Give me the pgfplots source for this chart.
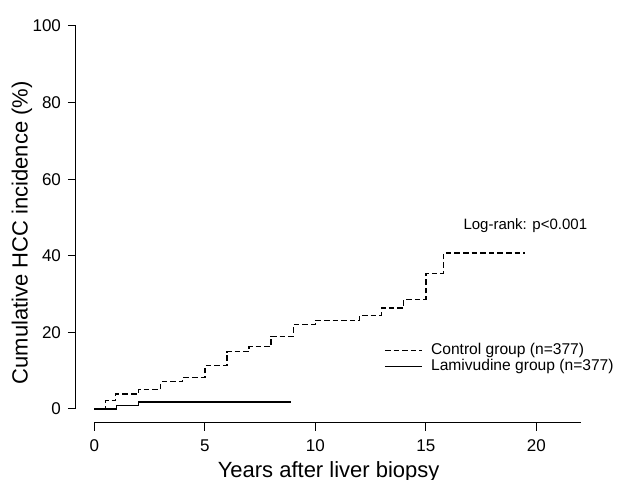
\documentclass[border=0pt]{standalone}
\usepackage{fontspec}
\setmainfont{Liberation Sans}
\usepackage{pgfplots}
\pgfplotsset{compat=1.18}
\begin{document}
\begin{tikzpicture}
\useasboundingbox (-38pt,-28.5pt) rectangle (271pt,211.5pt);
\begin{axis}[
    scale only axis,
    width=252.3pt, height=198.5pt,
    xmin=-0.83, xmax=22, ymin=-3.66, ymax=100,
    axis x line*=bottom, axis y line*=left,
    axis line style={draw=none},
    clip=false,
    xtick={0,5,10,15,20},
    ytick={0,20,40,60,80,100},
    tick align=outside,
    major tick length=4pt,
    tick style={black, line width=0.5pt},
    tick label style={font=\fontsize{8.5}{10}\selectfont},
    /pgf/number format/assume math mode=true,
    xticklabel style={yshift=-1pt},
    xlabel={Years after liver biopsy},
    xlabel style={at={(axis cs:10.6,-3.66)}, anchor=north, yshift=-16pt,
        font=\fontsize{11}{13}\selectfont},
    ylabel={Cumulative HCC incidence (\%)},
    ylabel style={at={(axis cs:-0.83,46)}, anchor=center, yshift=27pt,
        font=\fontsize{11}{13}\selectfont},
    legend image code/.code={\draw[#1] (0pt,0pt) -- (18.5pt,0pt);},
    legend cell align=left,
    legend style={draw=none, fill=none, at={(axis cs:13.1,18.3)},
        anchor=north west, inner sep=0pt, row sep=-3pt,
        font=\fontsize{7.8}{9}\selectfont,
        nodes={inner xsep=4.2pt}},
  ]
  \draw[line width=0.5pt] (axis cs:0,-3.66) -- (axis cs:22,-3.66);
  \draw[line width=0.5pt] (axis cs:-0.83,0) -- (axis cs:-0.83,100);

  \addplot[const plot, black, line width=0.7pt, dash pattern=on 2.8pt off 1.5pt]
    coordinates {
      (0,0) (0.5,2.2) (0.95,3.9) (2.0,5.1) (3.0,7.1) (4.0,8.2)
      (5.0,11.3) (6.0,15.0) (7.0,16.3) (8.0,19.0) (9.0,22.0)
      (10.0,23.1) (12.0,24.4) (13.0,26.4) (14.0,28.6) (15.0,35.4)
      (15.8,40.7) (19.5,40.7)
    };
  \addlegendentry{Control group (n=377)}

  \addplot[const plot, black, line width=0.7pt]
    coordinates {
      (0,0) (1.0,0.9) (2.0,1.8) (8.9,1.8)
    };
  \addlegendentry{Lamivudine group (n=377)}

  \node[font=\fontsize{7.5}{9}\selectfont] at (axis cs:19.5,48) {Log-rank: p<0.001};
\end{axis}
\end{tikzpicture}
\end{document}
